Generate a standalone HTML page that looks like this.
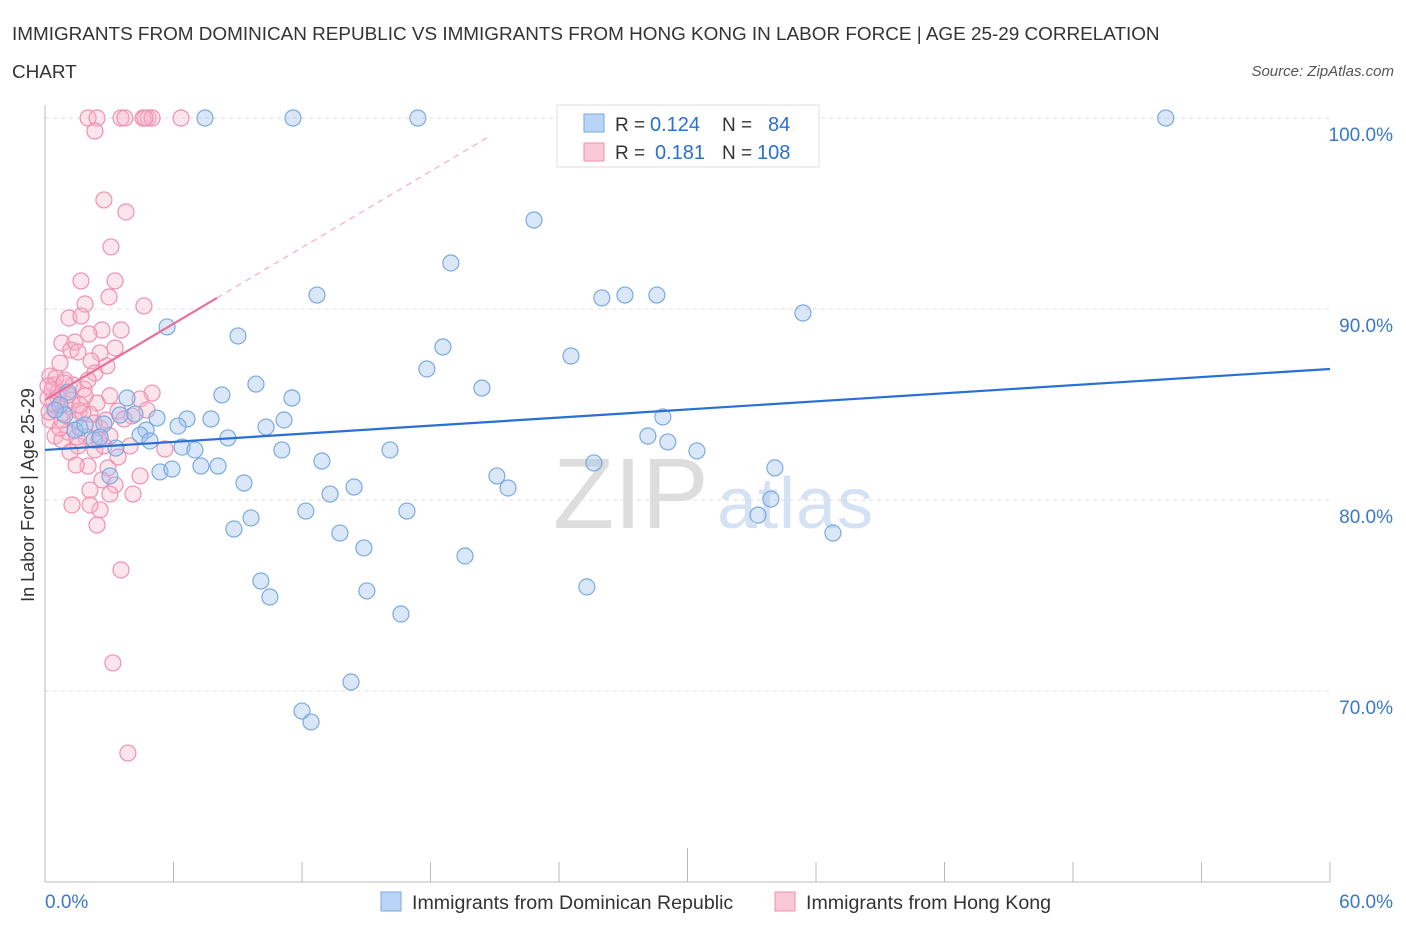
<!DOCTYPE html>
<html><head><meta charset="utf-8"><style>
body{margin:0;background:#fff;font-family:"Liberation Sans",sans-serif;}
svg text{font-family:"Liberation Sans",sans-serif;}
</style></head><body>
<svg width="1406" height="930" xmlns="http://www.w3.org/2000/svg">
<text x="12" y="40" font-size="18.9" fill="#333">IMMIGRANTS FROM DOMINICAN REPUBLIC VS IMMIGRANTS FROM HONG KONG IN LABOR FORCE | AGE 25-29 CORRELATION</text>
<text x="12" y="78" font-size="18.9" fill="#333">CHART</text>
<text x="1394" y="76" font-size="15" fill="#555" font-style="italic" text-anchor="end">Source: ZipAtlas.com</text>
<g>
<text x="553" y="528" font-size="100" fill="#ddd" font-family="Liberation Serif">ZIP</text>
<text x="717" y="528" font-size="72" fill="#d4e2f4" letter-spacing="1">atlas</text>
</g>
<g id="grid"></g>
<g id="axes"></g>
<g id="pts"></g>
<g id="lines"></g>
<text x="34" y="495" font-size="18" fill="#333" transform="rotate(-90 34 495)" text-anchor="middle">In Labor Force | Age 25-29</text>
<g>
<rect x="557" y="105" width="262" height="62" fill="#fff" stroke="#ddd"/>
<rect x="584" y="114" width="20" height="18" fill="#b8d4f6" stroke="#7aaae0"/>
<text x="615" y="131" font-size="19" fill="#333">R =</text>
<text x="650" y="131" font-size="20" fill="#2a6fd6">0.124</text>
<text x="722" y="131" font-size="19" fill="#333">N =</text>
<text x="768" y="131" font-size="20" fill="#2a6fd6">84</text>
<rect x="584" y="143" width="20" height="18" fill="#f9c8d6" stroke="#f090b0"/>
<text x="615" y="159" font-size="19" fill="#333">R =</text>
<text x="655" y="159" font-size="20" fill="#2a6fd6">0.181</text>
<text x="722" y="159" font-size="19" fill="#333">N =</text>
<text x="757" y="159" font-size="20" fill="#2a6fd6">108</text>
</g>
<g>
<rect x="381" y="892" width="20" height="19" fill="#b8d4f6" stroke="#7aaae0"/>
<text x="412" y="909" font-size="19.6" fill="#333">Immigrants from Dominican Republic</text>
<rect x="775" y="892" width="20" height="19" fill="#f9c8d6" stroke="#f090b0"/>
<text x="806" y="909" font-size="19.6" fill="#333">Immigrants from Hong Kong</text>
</g>
</svg>
<script>
const blueX=[7.47,11.58,17.41,52.33,22.83,18.95,12.70,26.0,27.08,28.57,35.39,5.70,9.01,18.58,24.56,17.83,20.40,9.85,8.26,11.53,3.83,1.07,0.70,3.50,4.20,5.23,6.63,7.75,11.16,28.85,4.72,6.21,10.32,2.75,1.63,2.29,4.44,4.90,8.54,28.15,29.08,30.44,11.06,3.31,6.40,7.00,16.11,12.93,5.37,5.93,7.28,8.08,25.63,21.10,21.62,14.43,13.31,34.08,9.29,33.89,12.18,16.90,9.62,8.82,33.29,36.79,13.77,14.89,19.61,10.08,10.50,15.03,25.30,16.62,14.29,12.0,12.42,3.03,1.40,0.93,1.87,2.57,0.47];
const blueY=[100,100,100,100,94.66,92.41,90.73,90.58,90.73,90.73,89.79,89.06,88.59,88.01,87.54,86.86,85.86,86.07,85.50,85.34,85.34,85.65,84.97,84.45,84.50,84.29,84.24,84.24,84.19,84.35,83.66,83.87,83.82,83.98,83.77,83.14,83.40,83.09,83.25,83.35,83.04,82.57,82.62,82.72,82.77,82.62,82.62,82.04,81.47,81.62,81.78,81.78,81.94,81.26,80.63,80.68,80.31,81.68,80.89,80.05,79.42,79.42,79.06,78.48,79.21,78.27,78.27,77.49,77.07,75.76,74.92,75.24,75.45,74.03,70.47,68.95,68.38,81.26,83.66,84.45,83.93,83.30,84.71];
const pinkX=[2.01,2.43,3.55,3.73,4.58,4.81,5.0,6.35,4.67,2.33,2.75,3.78,3.08,1.68,3.27,2.99,1.87,4.62,1.12,1.68,3.55,2.66,2.05,0.79,1.40,3.27,2.57,1.21,0.70,1.54,2.15,2.89,0.23,2.33,0.93,0.42,1.82,0.61,5.0,3.03,4.44,0.14,1.26,2.43,0.51,1.59,3.41,4.76,0.84,2.10,4.06,0.23,1.40,2.57,1.07,0.47,1.91,3.03,0.79,1.54,3.97,2.33,5.60,1.17,2.01,1.45,2.94,4.44,2.66,3.27,2.10,4.11,3.03,1.26,2.57,2.10,2.43,3.55,3.17,3.87,0.61,0.33,0.98,1.87,2.75,3.41,0.70,1.77,2.29,0.37,1.31,3.69,2.01,2.52,0.51,1.63,1.07,0.14,0.79,2.85,1.49,0.19,0.89];
const pinkY=[100,100,100,100,100,100,100,100,100,99.32,95.71,95.08,93.25,91.47,91.47,90.63,90.26,90.16,89.53,89.63,88.90,88.90,88.69,88.22,88.27,87.96,87.70,87.85,87.17,87.75,87.28,87.02,86.49,86.65,86.28,86.02,85.81,85.65,85.60,85.45,85.29,85.34,85.24,85.08,84.71,84.66,84.66,84.71,84.55,84.50,84.40,84.19,84.19,83.77,83.56,83.35,83.30,83.35,83.14,82.83,82.83,82.62,82.67,82.51,81.78,81.83,81.68,81.26,81.05,80.79,80.52,80.31,80.31,79.74,79.48,79.74,78.69,76.34,71.47,66.75,85.34,85.76,85.03,85.45,82.83,82.25,83.77,84.55,84.03,85.08,86.02,84.24,86.28,83.14,86.39,84.97,85.50,85.97,84.19,84.19,83.30,84.61,86.13];
const yTicks=[100,90,80,70];
const yTickLabels=["100.0%","90.0%","80.0%","70.0%"];
const blueTrend=[82.62,86.86];
const pinkTrend=[85.24,0.665];
const pinkSolidEnd=8.03, pinkDashEnd=20.63;
const NS="http://www.w3.org/2000/svg";
const X0=45,X1=1330,Y100=118,Y60=882;
const sx=v=>X0+(v/60)*(X1-X0);
const sy=v=>Y100+(100-v)/40*(Y60-Y100);
function mk(tag,attrs,parent){const e=document.createElementNS(NS,tag);for(const k in attrs)e.setAttribute(k,attrs[k]);document.getElementById(parent).appendChild(e);return e;}
yTicks.forEach((t,i)=>{
 const g=mk('line',{x1:X0,x2:X1,y1:sy(t),y2:sy(t),stroke:'#ddd','stroke-dasharray':'4,4'},'grid');
 
 
 const l=mk('text',{x:1393,y:sy(t)+23,'font-size':19,fill:'#3a78c8','text-anchor':'end'},'grid');
 l.textContent=yTickLabels[i];
 
 
});
let ax=mk('line',{x1:X0,x2:X0,y1:105,y2:Y60,stroke:'#bbb'},'axes');


ax=mk('line',{x1:X0,x2:X1,y1:Y60,y2:Y60,stroke:'#bbb'},'axes');


for(let i=1;i<=10;i++){const v=i*6;const t=mk('line',{x1:sx(v),x2:sx(v),y1:i==5?848:862,y2:Y60,stroke:'#bbb'},'axes');
 
 }
let xl=mk('text',{x:45,y:908,'font-size':19,fill:'#3a78c8'},'axes');xl.textContent='0.0%';


xl=mk('text',{x:1393,y:908,'font-size':19,fill:'#3a78c8','text-anchor':'end'},'axes');xl.textContent='60.0%';


pinkX.forEach((v,i)=>{const c=mk('circle',{cx:sx(v),cy:sy(pinkY[i]),r:8,fill:'rgba(248,180,200,0.35)',stroke:'#f090b0','stroke-width':1.2},'pts');
 
 });
blueX.forEach((v,i)=>{const c=mk('circle',{cx:sx(v),cy:sy(blueY[i]),r:8,fill:'rgba(160,196,240,0.4)',stroke:'#7aaae0','stroke-width':1.2},'pts');
 
 });
let tl=mk('line',{x1:sx(0),y1:sy(blueTrend[0]),x2:sx(60),y2:sy(blueTrend[1]),stroke:'#2a6fd6','stroke-width':2.2},'lines');


const py=x=>pinkTrend[0]+pinkTrend[1]*x;
tl=mk('line',{x1:sx(0),y1:sy(py(0)),x2:sx(pinkSolidEnd),y2:sy(py(pinkSolidEnd)),stroke:'#e8709a','stroke-width':2.2},'lines');


tl=mk('line',{x1:sx(pinkSolidEnd),y1:sy(py(pinkSolidEnd)),x2:sx(pinkDashEnd),y2:sy(Math.min(100,py(pinkDashEnd))),stroke:'#f0a0b8','stroke-width':1,'stroke-dasharray':'6,5'},'lines');


</script>
</body></html>
